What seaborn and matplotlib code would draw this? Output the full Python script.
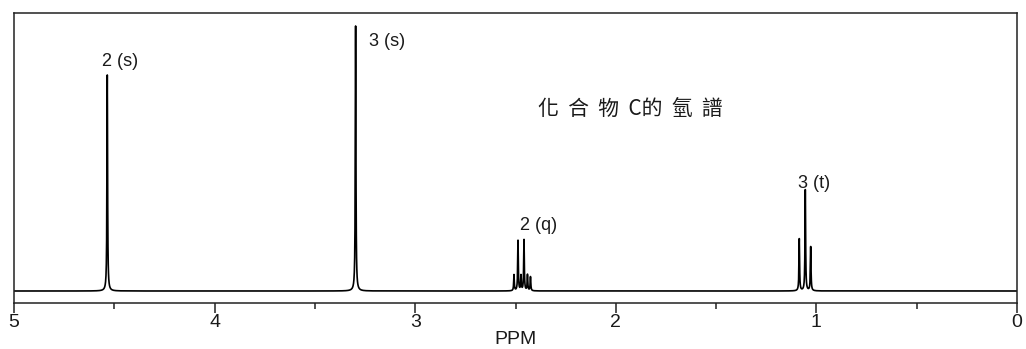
import numpy as np
import pandas as pd
import matplotlib
matplotlib.use("Agg")
import matplotlib.pyplot as plt
import seaborn as sns

# Peak list of the 1H spectrum: chemical shifts (ppm) and line heights
singlet_ppm = [4.535, 3.297]
singlet_height = [216, 265]

quartet_ppm = [2.5075, 2.4875, 2.4726, 2.4576, 2.4402, 2.4252]
quartet_height = [16, 50, 15, 51, 16, 14]

triplet_ppm = [1.0853, 1.0553, 1.0284]
triplet_height = [52, 101, 44]

# Multiplicity labels: text, anchor shift (ppm), anchor height
label_text = ["2 (s)", "3 (s)", "2 (q)", "3 (t)"]
label_ppm = [4.561, 3.230, 2.478, 1.092]
label_y = [230, 249, 66, 107]

title_text = "化  合  物  C的  氫  譜"
title_ppm = 2.388
title_y = 182

x_ticks = [5, 4, 3, 2, 1, 0]
x_minor = [4.5, 3.5, 2.5, 1.5, 0.5]
x_label = "PPM"

line_width_ppm = 0.0018  # Lorentzian half-width

peak_ppm = np.array(singlet_ppm + quartet_ppm + triplet_ppm)
peak_h = np.array(singlet_height + quartet_height + triplet_height, dtype=float)

grid = np.union1d(np.linspace(0, 5, 20001), peak_ppm)
intensity = np.zeros_like(grid)
for p, h in zip(peak_ppm, peak_h):
    intensity += h * line_width_ppm**2 / ((grid - p) ** 2 + line_width_ppm**2)

spectrum = pd.DataFrame({"ppm": grid, "intensity": intensity})

sns.set_style("white")
plt.rcParams["font.family"] = ["Liberation Sans", "DejaVu Sans"]

fig = plt.figure(figsize=(10.26, 3.49), dpi=100)
ax = fig.add_axes([14 / 1026, 1 - 303 / 349, 1003 / 1026, 290 / 349])

sns.lineplot(data=spectrum, x="ppm", y="intensity", ax=ax, color="black",
             linewidth=1.2, estimator=None, sort=False)

ax.set_xlim(5, 0)
ax.set_ylim(-12, 278)

for t, xp, yp in zip(label_text, label_ppm, label_y):
    ax.text(xp, yp, t, ha="left", va="center", fontsize=13, color="#1a1a1a")

ax.text(title_ppm, title_y, title_text, ha="left", va="center", fontsize=15,
        color="#1a1a1a", family=["Noto Sans CJK TC", "DejaVu Sans"])

ax.set_xticks(x_ticks)
ax.set_xticklabels([str(v) for v in x_ticks])
ax.set_xticks(x_minor, minor=True)
ax.set_yticks([])
ax.tick_params(axis="x", which="major", direction="out", length=7.5, width=1.1,
               color="#222222", pad=0.5, labelsize=14, labelcolor="#1a1a1a",
               bottom=True)
ax.tick_params(axis="x", which="minor", direction="out", length=4.5, width=1.1,
               color="#222222", bottom=True)
ax.set_xlabel(x_label, fontsize=14, labelpad=0, color="#1a1a1a")
ax.set_ylabel("")

for side in ["left", "right", "top", "bottom"]:
    ax.spines[side].set_visible(True)
    ax.spines[side].set_color("#222222")
    ax.spines[side].set_linewidth(1.1)

fig.savefig("out.png", dpi=100, facecolor="white")
